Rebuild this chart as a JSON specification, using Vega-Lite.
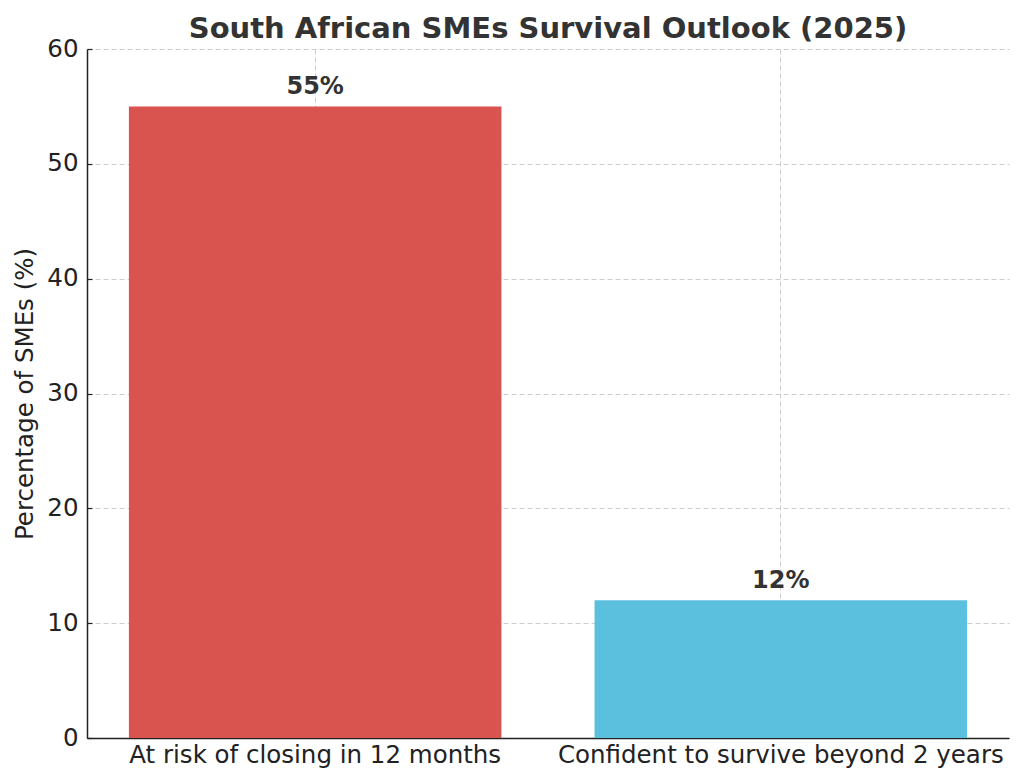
{
  "$schema": "https://vega.github.io/schema/vega-lite/v6.json",
  "autosize": "none",
  "width": 922,
  "height": 689,
  "padding": {"left": 87, "top": 49, "right": 15, "bottom": 46},
  "background": "#ffffff",
  "title": {
    "text": "South African SMEs Survival Outlook (2025)",
    "font": "DejaVu Sans",
    "fontSize": 29,
    "fontWeight": "bold",
    "color": "#333333",
    "anchor": "middle",
    "offset": -8
  },
  "config": {
    "view": {"stroke": null},
    "axis": {
      "labelFont": "DejaVu Sans",
      "titleFont": "DejaVu Sans",
      "labelFontSize": 24.5,
      "titleFontSize": 24.5,
      "titleFontWeight": "normal",
      "labelColor": "#222222",
      "titleColor": "#222222",
      "domainColor": "#222222",
      "domainWidth": 1.5,
      "tickColor": "#222222",
      "tickWidth": 1.2,
      "tickSize": -5,
      "gridColor": "#cccccc",
      "gridDash": [5, 3],
      "gridWidth": 1,
      "labelLimit": 0,
      "zindex": 1
    }
  },
  "data": {
    "values": [
      {"category": "At risk of closing in 12 months", "percent": 55, "label": "55%"},
      {"category": "Confident to survive beyond 2 years", "percent": 12, "label": "12%"}
    ]
  },
  "encoding": {
    "x": {
      "field": "category",
      "type": "nominal",
      "sort": null,
      "scale": {"paddingInner": 0.2, "paddingOuter": 0.09},
      "axis": {"title": null, "labelAngle": 0, "grid": true, "labelPadding": 10}
    },
    "y": {
      "field": "percent",
      "type": "quantitative",
      "scale": {"domain": [0, 60], "nice": false},
      "axis": {
        "title": "Percentage of SMEs (%)",
        "values": [0, 10, 20, 30, 40, 50, 60],
        "grid": true,
        "labelPadding": 14,
        "titlePadding": 9
      }
    }
  },
  "layer": [
    {
      "mark": {"type": "bar"},
      "encoding": {
        "color": {
          "field": "category",
          "type": "nominal",
          "scale": {"range": ["#d9534f", "#5bc0de"]},
          "legend": null
        }
      }
    },
    {
      "mark": {
        "type": "text",
        "baseline": "alphabetic",
        "dy": -12,
        "font": "DejaVu Sans",
        "fontSize": 24,
        "fontWeight": "bold",
        "color": "#333333"
      },
      "encoding": {"text": {"field": "label"}}
    }
  ]
}
